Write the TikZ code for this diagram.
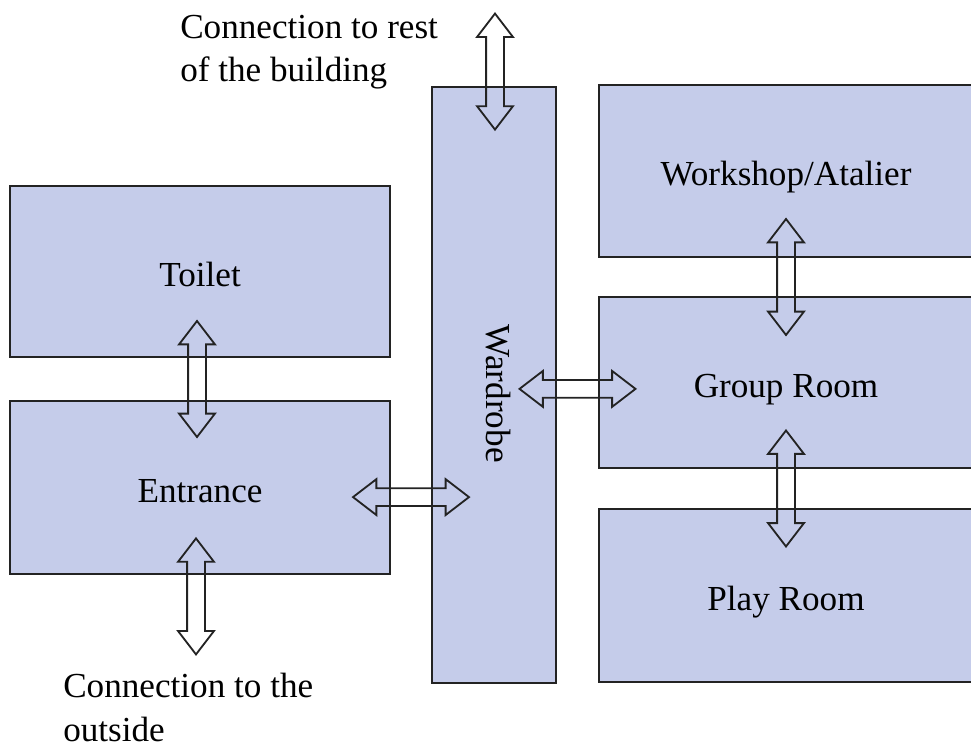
\documentclass[tikz,border=0pt]{standalone}
\usepackage{fontspec}
\setmainfont{Liberation Serif}
\usepackage{tikz}
\usetikzlibrary{calc,positioning,shapes,shapes.arrows}

\definecolor{roomblue}{RGB}{197,204,234}
\definecolor{roomline}{RGB}{35,35,35}

\begin{document}
\begin{tikzpicture}[
		room/.style={draw=roomline,fill=roomblue,line width=2pt,inner sep=0pt,text height=0.85cm,text depth=0.1cm,font=\fontsize{25}{30}\selectfont},
		dblarr/.style={double arrow,draw=roomline,line width=1.3pt,inner xsep=0pt,inner ysep=0.2cm,minimum height=2.9cm,minimum width=0.85cm,double arrow head extend=0.225cm,double arrow tip angle=75},
		lbl/.style={align=left,inner sep=0pt,font=\fontsize{25}{31}\selectfont}]
		\useasboundingbox (0,0) rectangle (24.275,18.725);
		
		\node[room,minimum width=9.5cm,minimum height=4.275cm] (toilet) at (5,11.9375) {Toilet};
		\node[room,minimum width=9.5cm,minimum height=4.325cm] (entrance) at (5,6.5375) {Entrance};
		\node[room,minimum width=3.1cm,minimum height=14.9cm,label={[xshift=0.1cm,yshift=-0.22cm,rotate=-90,font=\fontsize{25}{30}\selectfont]center:Wardrobe}] (wardrobe) at (12.35,9.1) {};
		\node[room,minimum width=9.35cm,minimum height=4.3cm] (workshop) at (19.65,14.45) {Workshop/Atalier};
		\node[room,minimum width=9.35cm,minimum height=4.275cm] (group) at (19.65,9.1625) {Group Room};
		\node[room,minimum width=9.35cm,minimum height=4.325cm] (play) at (19.65,3.8375) {Play Room};
		
		\node[dblarr,rotate=90] (restarr) at ($(wardrobe.north)+(0.025,0.35)$) {};
		\node[dblarr,rotate=90] (toiletarr) at ($(toilet.south)!0.5!(entrance.north)+(-0.075,0)$) {};
		\node[dblarr,rotate=90] (outarr) at ($(entrance.south)+(-0.1,-0.525)$) {};
		\node[dblarr] (entrarr) at ($(entrance.east)!0.5!(entrance.east -| wardrobe.west)+(0,-0.24)$) {};
		\node[dblarr] (grouparr) at ($(wardrobe.east |- group.west)!0.5!(group.west)+(0,-0.16)$) {};
		\node[dblarr,rotate=90] (workarr) at ($(workshop.south)!0.5!(group.north)$) {};
		\node[dblarr,rotate=90] (playarr) at ($(group.south)!0.5!(play.north)$) {};
		
		\node[lbl,anchor=base west] (restlbl) at (4.5,16.675) {Connection to rest\\of the building};
		\node[lbl,anchor=base west] (outlbl) at (1.575,0.2) {Connection to the\\outside};
		
	\end{tikzpicture}
\end{document}
